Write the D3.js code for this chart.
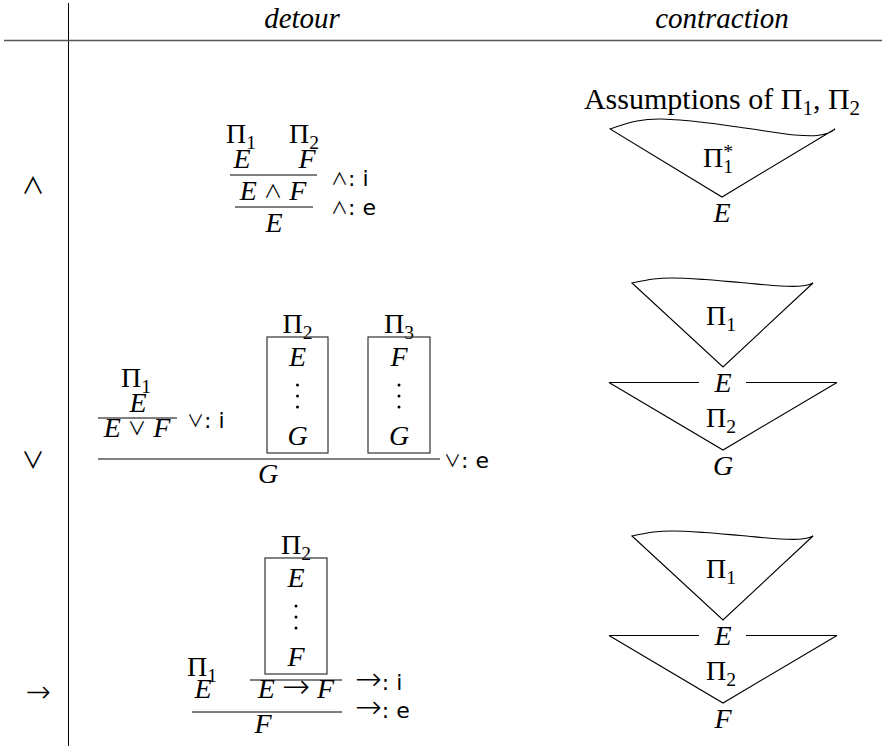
<!DOCTYPE html>
<html>
<head>
<meta charset="utf-8">
<title>Detour and contraction</title>
<style>
  body { margin: 0; background: #fff; }
  text { fill: #000; }
  .math { font-family: "Liberation Serif", "DejaVu Serif", serif; }
  .rule { font-family: "DejaVu Sans", sans-serif; }
  .op { font-family: "Noto Sans CJK SC", "DejaVu Sans", sans-serif; }
  .arrow { font-family: "DejaVu Sans", sans-serif; font-weight: 200; }
</style>
</head>
<body>
<script src="https://d3js.org/d3.v7.min.js"></script>
<script>
var width = 882, height = 749;

// header, row labels and formulas
var headers = ["detour", "contraction"];
var connectives = ["∧", "∨", "→"];
var ruleKinds = ["i", "e"];
var assumptions = "Assumptions of Π_1, Π_2";
var andTree = { prems: ["Π_1", "Π_2"], tops: ["E", "F"], mid: "E ∧ F", concl: "E" };
var orTree = { pi: ["Π_1", "Π_2", "Π_3"], prem: "E", mid: "E ∨ F", boxTop: ["E", "F"], boxBot: ["G", "G"], concl: "G" };
var impTree = { pi: ["Π_1", "Π_2"], prem: "E", boxTop: "E", boxBot: "F", mid: "E → F", concl: "F" };
var contractions = [
  { top: ["Π_1^*"], ends: ["E"] },
  { top: ["Π_1", "Π_2"], ends: ["E", "G"] },
  { top: ["Π_1", "Π_2"], ends: ["E", "F"] }
];
// shape of the wavy upper edge (fraction of width, relative height)
var wave = [[0, 0], [0.12, -0.8], [0.22, -1], [0.4, -0.7], [0.6, -0.1], [0.82, 0.6], [0.92, 0.65], [0.97, 0.4], [1, 0]];

var FS = 28;      // math font size
var RS = 22;      // rule label size

var svg = d3.select("body").append("svg")
  .attr("width", width)
  .attr("height", height);

var colX = d3.scaleOrdinal().domain(["label"].concat(headers)).range([34, 302, 722]);
var rowY = d3.scaleOrdinal().domain(connectives).range([186, 460, 692]);

function opClass(c) { return c === "→" ? "arrow" : "op"; }
// relative size and baseline lift of the connective glyphs
function opSize(c) { return c === "→" ? 1.2 : 0.66; }
function opLift(c) { return c === "→" ? 0 : -0.07; }

// tiny math typesetter: E F G italic, _x subscript, ^x superscript
function tokens(s) {
  var out = [], i = 0;
  while (i < s.length) {
    var c = s[i];
    if (c === "_" || c === "^") { out.push({ t: s[i + 1], k: c === "_" ? "sub" : "sup" }); i += 2; continue; }
    out.push({ t: c, k: "EFG".indexOf(c) >= 0 ? "it" : connectives.indexOf(c) >= 0 ? "op" : "rm" });
    i++;
  }
  return out;
}

function math(x, y, s, size, anchor) {
  size = size || FS;
  var t = svg.append("text")
    .attr("class", "math")
    .attr("x", x).attr("y", y)
    .attr("text-anchor", anchor || "middle")
    .style("font-size", size + "px")
    .style("white-space", "pre");
  var shift = 0, lastSub = null;
  tokens(s).forEach(function(d) {
    var ts = t.append("tspan").text(d.t);
    var target = d.k === "sub" ? size * 0.2 : d.k === "sup" ? -size * 0.33 : d.k === "op" ? size * opLift(d.t) : 0;
    if (target !== shift) { ts.attr("dy", target - shift); shift = target; }
    if (d.k === "it") ts.style("font-style", "italic");
    if (d.k === "op") ts.attr("class", opClass(d.t)).style("font-size", (size * opSize(d.t)) + "px");
    if (d.k === "sub" || d.k === "sup") ts.style("font-size", (size * 0.7) + "px");
    if (d.k === "sup" && lastSub) ts.attr("dx", -lastSub.node().getComputedTextLength());
    lastSub = d.k === "sub" ? ts : null;
  });
  return t;
}

function rule(x, y, sym, kind) {
  var t = svg.append("text")
    .attr("class", "rule")
    .attr("x", x).attr("y", y)
    .style("font-size", RS + "px")
    .style("white-space", "pre");
  t.append("tspan").attr("class", opClass(sym))
    .style("font-size", (sym === "→" ? 32 : 17) + "px")
    .attr("dy", sym === "→" ? 0 : -1)
    .text(sym);
  t.append("tspan").attr("dy", sym === "→" ? 0 : 1).text(": " + kind);
}

function hline(x1, x2, y, w) {
  svg.append("line")
    .attr("x1", x1).attr("x2", x2).attr("y1", y).attr("y2", y)
    .attr("stroke", "#000").attr("stroke-width", w || 1);
}

function box(x, y, w, h) {
  svg.append("rect")
    .attr("x", x).attr("y", y).attr("width", w).attr("height", h)
    .attr("fill", "none").attr("stroke", "#333").attr("stroke-width", 1.2);
}

function vdots(x, y) {
  svg.selectAll(null).data([0, 1, 2]).enter().append("circle")
    .attr("cx", x).attr("cy", function(d) { return y + d * 11; })
    .attr("r", 1.5).attr("fill", "#000");
}

function boxedDeriv(cx, top, w, h, pi, a, b) {
  math(cx, top - 4, pi);
  box(cx - w / 2, top, w, h);
  math(cx, top + 29, a);
  vdots(cx, top + 48);
  math(cx, top + h - 8, b);
}

// wedge with wavy top from (x0,y0) to (x1,y0), tip at (tx,ty)
function wedge(x0, x1, y0, tx, ty, amp) {
  var wx = d3.scaleLinear().domain([0, 1]).range([x0, x1]);
  var pts = wave.map(function(p) { return [wx(p[0]), y0 + p[1] * amp]; });
  var line = d3.line().curve(d3.curveCatmullRom.alpha(0.5));
  svg.append("path")
    .attr("d", line(pts) + "L" + tx + "," + ty + "Z")
    .attr("fill", "none").attr("stroke", "#000").attr("stroke-width", 1.1)
    .attr("stroke-linejoin", "miter");
}

// table rules
svg.append("line")
  .attr("x1", 68.5).attr("x2", 68.5).attr("y1", 3).attr("y2", 746)
  .attr("stroke", "#000").attr("stroke-width", 1);
svg.append("line")
  .attr("x1", 4).attr("x2", width).attr("y1", 40.5).attr("y2", 40.5)
  .attr("stroke", "#555").attr("stroke-width", 1.6);

// headers
svg.selectAll(".hdr").data(headers).enter().append("text")
  .attr("class", "math hdr")
  .attr("x", function(d) { return colX(d); })
  .attr("y", 28)
  .attr("text-anchor", "middle")
  .style("font-style", "italic")
  .style("font-size", "29px")
  .text(function(d) { return d; });

// row labels
svg.selectAll(".lbl").data(connectives).enter().append("text")
  .attr("class", function(d) { return opClass(d) + " lbl"; })
  .attr("x", function(d, i) { return colX("label") + (i === 2 ? 4 : -1); })
  .attr("y", function(d, i) { return rowY(d) + (i === 2 ? 10 : 8); })
  .attr("text-anchor", "middle")
  .style("font-size", function(d, i) { return i === 2 ? "30px" : "23px"; })
  .text(function(d) { return d; });

// ---- row 1: conjunction ----
var y1 = rowY("∧");
math(241, y1 - 43, andTree.prems[0]);
math(304, y1 - 43, andTree.prems[1]);
math(242, y1 - 18, andTree.tops[0]);
math(307, y1 - 18, andTree.tops[1]);
hline(230, 317, y1 - 11);
math(273, y1 + 14, andTree.mid);
hline(235, 313, y1 + 21);
math(274, y1 + 46, andTree.concl);
rule(331, y1, connectives[0], ruleKinds[0]);
rule(331, y1 + 29, connectives[0], ruleKinds[1]);

math(colX("contraction"), 109, assumptions, 30);
wedge(610, 835, 129, 722, 197, 10);
math(718, 167, contractions[0].top[0]);
math(722, 222, contractions[0].ends[0]);

// ---- row 2: disjunction ----
var y2 = rowY("∨");
math(136, y2 - 73, orTree.pi[0]);
math(138, y2 - 48, orTree.prem);
hline(98, 177, y2 - 42);
math(137, y2 - 23, orTree.mid);
rule(187, y2 - 32, connectives[1], ruleKinds[0]);
boxedDeriv(297.5, y2 - 123, 61, 116, orTree.pi[1], orTree.boxTop[0], orTree.boxBot[0]);
boxedDeriv(399, y2 - 123, 62, 116, orTree.pi[2], orTree.boxTop[1], orTree.boxBot[1]);
hline(98, 440, y2 - 1);
math(268, y2 + 23, orTree.concl);
rule(444, y2 + 8, connectives[1], ruleKinds[1]);

// ---- row 3: implication ----
var y3 = rowY("→");
boxedDeriv(296, y3 - 134, 62, 116, impTree.pi[1], impTree.boxTop, impTree.boxBot);
hline(250, 342, y3 - 12);
math(296, y3 + 6, impTree.mid);
math(202, y3 - 16, impTree.pi[0]);
math(203, y3 + 6, impTree.prem);
hline(192, 342, y3 + 20);
math(263, y3 + 41, impTree.concl);
rule(355, y3 - 2, connectives[2], ruleKinds[0]);
rule(355, y3 + 26, connectives[2], ruleKinds[1]);

// ---- contractions for rows 2 and 3 ----
[1, 2].forEach(function(i) {
  var off = i === 1 ? 0 : 253;
  var c = contractions[i];
  wedge(632, 813, 283 + off, 723, 367 + off, 5);
  math(721, 325 + off, c.top[0]);
  hline(609, 699, 382.5 + off);
  hline(746, 837, 382.5 + off);
  svg.append("path")
    .attr("d", d3.line()([[609, 382.5 + off], [723, 450 + off], [837, 382.5 + off]]))
    .attr("fill", "none").attr("stroke", "#000").attr("stroke-width", 1.1);
  math(723, 392 + off, c.ends[0]);
  math(721, 427 + off, c.top[1]);
  math(723, 475 + off, c.ends[1]);
});
</script>
</body>
</html>
